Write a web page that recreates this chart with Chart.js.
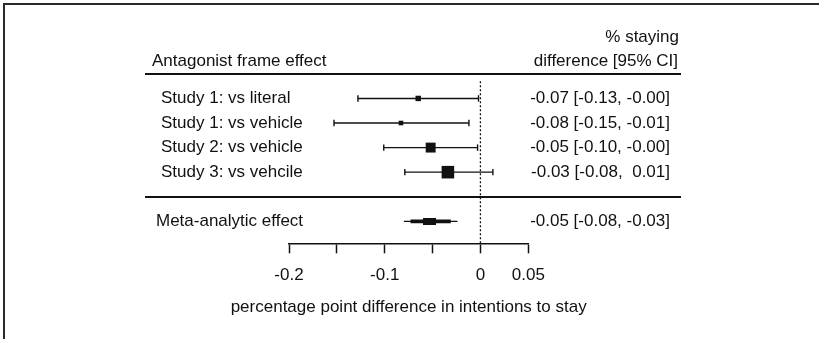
<!DOCTYPE html>
<html><head><meta charset="utf-8">
<script src="https://cdn.jsdelivr.net/npm/chart.js@4"></script>
<style>
html,body{margin:0;padding:0;background:#fff;}
#wrap{position:relative;width:819px;height:339px;overflow:hidden;}
#frame{position:absolute;left:3px;top:3px;right:-4px;bottom:-4px;border-top:2px solid #2a2a2a;border-left:2px solid #2a2a2a;pointer-events:none;}
canvas{display:block;}
</style></head><body>
<div id="wrap"><canvas id="c" width="819" height="339"></canvas><div id="frame"></div></div>
<script>
// ---------------- data ----------------
const groupTitle = 'Antagonist frame effect';
const columnTitle = ['% staying', 'difference [95% CI]'];
const studies = ['Study 1: vs literal', 'Study 1: vs vehicle', 'Study 2: vs vehicle', 'Study 3: vs vehcile'];
const estimates = [-0.065, -0.083, -0.052, -0.034];
const lowerCI = [-0.128, -0.153, -0.101, -0.079];
const upperCI = [-0.002, -0.012, -0.003, 0.013];
const studyWeights = [9.6, 6.9, 32.1, 51.5];           // % weight (square area)
const ciLabels = ['-0.07 [-0.13, -0.00]', '-0.08 [-0.15, -0.01]', '-0.05 [-0.10, -0.00]', '-0.03 [-0.08,  0.01]'];
const metaLabel = 'Meta-analytic effect';
const metaEstimate = -0.053;
const metaLower = -0.080;
const metaUpper = -0.024;
const metaInnerLower = -0.073;
const metaInnerUpper = -0.031;
const metaCiLabel = '-0.05 [-0.08, -0.03]';
const xTickValues = [-0.2, -0.15, -0.1, -0.05, 0, 0.05];
const xTickLabels = ['-0.2', '', '-0.1', '', '0', '0.05'];
const xAxisTitle = 'percentage point difference in intentions to stay';

// ---------------- layout / style ----------------
const INK = '#111';
const FAMILY = '"Liberation Sans", Arial, sans-serif';
const FSIZE = 17;
const studyRows = studies.map((_, i) => i + 1);
const metaRow = studies.length + 2;
const Y_MIN = -2, Y_MAX = 6.894;

function boxImage(w, h) {
  const c = document.createElement('canvas');
  c.width = w; c.height = h;
  const g = c.getContext('2d');
  g.fillStyle = INK; g.fillRect(0, 0, w, h);
  return c;
}

const datasets = [];
// zero reference line
datasets.push({
  type: 'line', data: [{x: 0, y: 0.3}, {x: 0, y: Y_MAX}],
  borderColor: INK, borderWidth: 1.3, borderDash: [2, 2], pointRadius: 0, clip: false, order: 5
});
// study CIs
studies.forEach((s, i) => {
  datasets.push({
    type: 'line', data: [{x: lowerCI[i], y: studyRows[i]}, {x: upperCI[i], y: studyRows[i]}],
    borderColor: INK, borderWidth: 1.4, pointStyle: 'line', rotation: 90,
    pointRadius: 3.2, pointBorderWidth: 1.4, pointBorderColor: INK, clip: false, order: 2
  });
});
// study squares
datasets.push({
  type: 'scatter',
  data: estimates.map((e, i) => ({x: e, y: studyRows[i]})),
  pointStyle: 'rect', backgroundColor: INK, borderColor: INK, borderWidth: 0,
  pointRadius: studyWeights.map(w => 1.75 * Math.sqrt(w) / 1.414),
  clip: false, order: 1
});
// meta thin, thick and box
datasets.push({
  type: 'line', data: [{x: metaLower, y: metaRow}, {x: metaUpper, y: metaRow}],
  borderColor: INK, borderWidth: 1.4, pointRadius: 0, borderCapStyle: 'butt', clip: false, order: 3
});
datasets.push({
  type: 'line', data: [{x: metaInnerLower, y: metaRow}, {x: metaInnerUpper, y: metaRow}],
  borderColor: INK, borderWidth: 3.6, pointRadius: 0, borderCapStyle: 'butt', clip: false, order: 2
});
datasets.push({
  type: 'scatter', data: [{x: metaEstimate, y: metaRow}],
  pointStyle: boxImage(13, 7), pointRadius: 7, clip: false, order: 1
});

const textPlugin = {
  id: 'forestText',
  afterDraw(chart) {
    const {ctx, scales: {x, y}, chartArea} = chart;
    ctx.save();
    ctx.fillStyle = INK;
    ctx.strokeStyle = INK;
    ctx.font = FSIZE + 'px ' + FAMILY;
    ctx.textBaseline = 'middle';
    // separators
    ctx.lineWidth = 2;
    [0, studies.length + 1].forEach(v => {
      const py = Math.round(y.getPixelForValue(v));
      ctx.beginPath(); ctx.moveTo(145, py); ctx.lineTo(681, py); ctx.stroke();
    });
    // headers
    ctx.textAlign = 'left';
    ctx.fillText(groupTitle, 152, y.getPixelForValue(-0.5));
    ctx.textAlign = 'right';
    ctx.fillText(columnTitle[0], 679, y.getPixelForValue(-1.5));
    ctx.fillText(columnTitle[1], 678, y.getPixelForValue(-0.5));
    // rows
    studies.forEach((s, i) => {
      const py = y.getPixelForValue(studyRows[i]);
      ctx.textAlign = 'left'; ctx.fillText(s, 161, py);
      ctx.textAlign = 'right'; ctx.fillText(ciLabels[i], 670, py);
    });
    const pm = y.getPixelForValue(metaRow);
    ctx.textAlign = 'left'; ctx.fillText(metaLabel, 156, pm);
    ctx.textAlign = 'right'; ctx.fillText(metaCiLabel, 670, pm);
    // x axis title
    ctx.textAlign = 'center';
    ctx.fillText(xAxisTitle, (chartArea.left + chartArea.right) / 2, 307);
    ctx.restore();
  }
};

new Chart(document.getElementById('c'), {
  data: {datasets},
  options: {
    responsive: false, animation: false, devicePixelRatio: 1,
    layout: {padding: {left: 289, right: 290.7, top: 24.7, bottom: 0}},
    plugins: {legend: {display: false}, tooltip: {enabled: false}},
    scales: {
      x: {
        type: 'linear', position: 'bottom', min: -0.2, max: 0.05,
        afterBuildTicks: s => { s.ticks = xTickValues.map(v => ({value: v})); },
        afterFit: s => { s.height = 339 - 243.3; },
        border: {display: true, color: INK, width: 1.5},
        grid: {drawOnChartArea: false, drawTicks: true, tickLength: 10, color: INK, tickColor: INK, tickWidth: 1.5},
        ticks: {
          color: INK, font: {family: FAMILY, size: FSIZE}, padding: 12, maxRotation: 0, autoSkip: false,
          callback: (v, i) => xTickLabels[i]
        },
        title: {display: false}
      },
      y: {type: 'linear', min: Y_MIN, max: Y_MAX, reverse: true, display: false}
    }
  },
  plugins: [textPlugin]
});
</script>
</body></html>
